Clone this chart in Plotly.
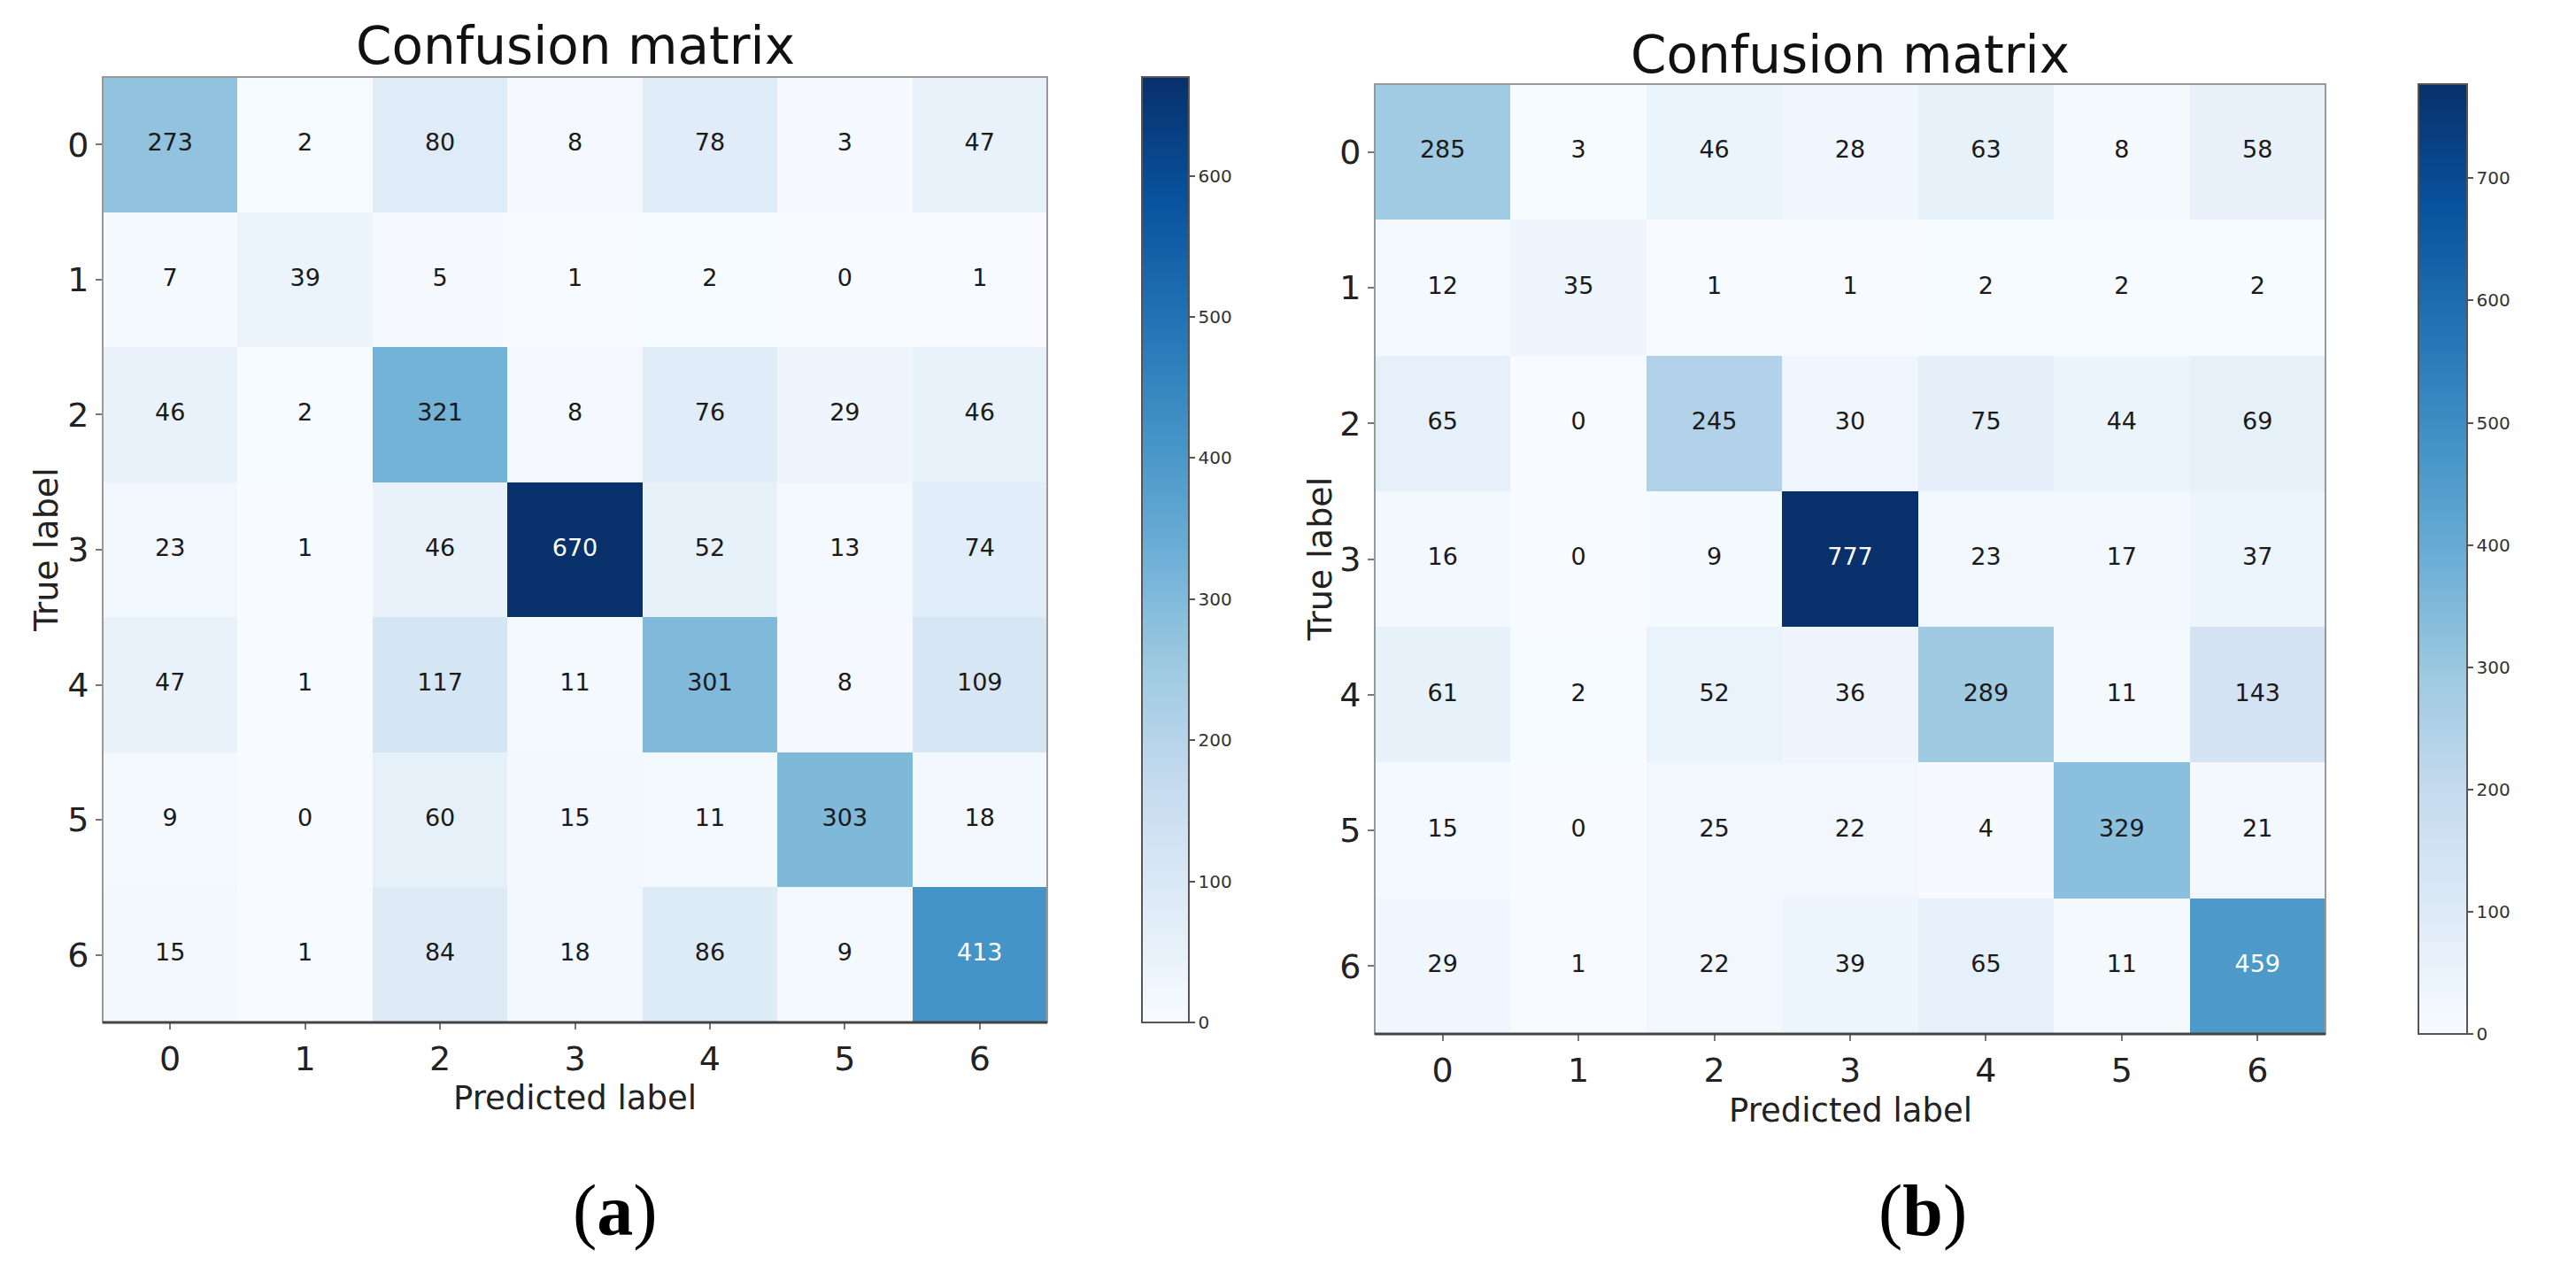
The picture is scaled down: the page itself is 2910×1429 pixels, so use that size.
import plotly.graph_objects as go
import plotly.colors as pc

# ---------------- data ----------------
class_labels = ["0", "1", "2", "3", "4", "5", "6"]

cm_a = [
    [273, 2, 80, 8, 78, 3, 47],
    [7, 39, 5, 1, 2, 0, 1],
    [46, 2, 321, 8, 76, 29, 46],
    [23, 1, 46, 670, 52, 13, 74],
    [47, 1, 117, 11, 301, 8, 109],
    [9, 0, 60, 15, 11, 303, 18],
    [15, 1, 84, 18, 86, 9, 413],
]

cm_b = [
    [285, 3, 46, 28, 63, 8, 58],
    [12, 35, 1, 1, 2, 2, 2],
    [65, 0, 245, 30, 75, 44, 69],
    [16, 0, 9, 777, 23, 17, 37],
    [61, 2, 52, 36, 289, 11, 143],
    [15, 0, 25, 22, 4, 329, 21],
    [29, 1, 22, 39, 65, 11, 459],
]

colorbar_ticks_a = [0, 100, 200, 300, 400, 500, 600]
colorbar_ticks_b = [0, 100, 200, 300, 400, 500, 600, 700]

panel_titles = ["Confusion matrix", "Confusion matrix"]
x_title = "Predicted label"
y_title = "True label"
panel_tags = ["(<b>a</b>)", "(<b>b</b>)"]

# ---------------- layout geometry (pixels) ----------------
W, H = 2910, 1429
FONT = "DejaVu Sans"
BLUES = pc.sequential.Blues


def fx(p):
    return p / W


def fy(p):
    return 1 - p / H


panels = [
    dict(cm=cm_a, ticks=colorbar_ticks_a, box=(116, 87, 1183, 1155),
         cbar=(1290, 53), title_y=52, xlab_y=1240, ylab_x=52, tag_x=695,
         xa="x", ya="y"),
    dict(cm=cm_b, ticks=colorbar_ticks_b, box=(1553, 95, 2627, 1168),
         cbar=(2732, 55), title_y=62, xlab_y=1254, ylab_x=1490, tag_x=2172,
         xa="x2", ya="y2"),
]

fig = go.Figure()
annotations = []
shapes = []
n = len(class_labels)
idx = list(range(n))

for i, p in enumerate(panels):
    cm = p["cm"]
    zmax = max(max(r) for r in cm)
    x0, y0, x1, y1 = p["box"]
    cbx, cbw = p["cbar"]

    fig.add_trace(go.Heatmap(
        z=cm, x=idx, y=idx, colorscale=BLUES, zmin=0, zmax=zmax,
        xaxis=p["xa"], yaxis=p["ya"], hoverinfo="skip",
        colorbar=dict(
            x=fx(cbx), xanchor="left", thickness=cbw, thicknessmode="pixels",
            len=(y1 - y0), lenmode="pixels", y=fy((y0 + y1) / 2), yanchor="middle",
            xpad=0, ypad=0, outlinewidth=2, outlinecolor="#555",
            tickvals=p["ticks"], ticks="outside", ticklen=6, tickcolor="#555",
            tickwidth=1.5,
            tickfont=dict(family=FONT, size=20, color="#333"),
        ),
    ))

    xs, ys, ts, cs = [], [], [], []
    for r in range(n):
        for c in range(n):
            v = cm[r][c]
            xs.append(c)
            ys.append(r)
            ts.append(str(v))
            cs.append("white" if v > zmax / 2 else "#1a1a1a")
    fig.add_trace(go.Scatter(
        x=xs, y=ys, text=ts, mode="text", textposition="middle center",
        textfont=dict(family=FONT, size=27, color=cs),
        xaxis=p["xa"], yaxis=p["ya"], hoverinfo="skip", showlegend=False,
    ))

    axis_common = dict(
        tickvals=idx, ticktext=class_labels, showgrid=False, zeroline=False,
        ticks="outside", ticklen=7, tickwidth=1.5, tickcolor="#777",
        tickfont=dict(family=FONT, size=38, color="#222"), showline=False,
    )
    xkey = "xaxis" if p["xa"] == "x" else "xaxis2"
    ykey = "yaxis" if p["ya"] == "y" else "yaxis2"
    fig.update_layout(**{
        xkey: dict(axis_common, domain=[fx(x0), fx(x1)], range=[-0.5, n - 0.5],
                   anchor=p["ya"]),
        ykey: dict(axis_common, domain=[fy(y1), fy(y0)], range=[n - 0.5, -0.5],
                   anchor=p["xa"]),
    })

    # frame (spines)
    xd = p["xa"] + " domain"
    yd = p["ya"] + " domain"
    shapes.append(dict(type="rect", xref=xd, yref=yd, x0=0, x1=1, y0=0, y1=1,
                       line=dict(color="#999", width=2)))
    shapes.append(dict(type="line", xref=xd, yref=yd, x0=0, x1=1, y0=0, y1=0,
                       line=dict(color="#444", width=3)))

    cx = (x0 + x1) / 2
    annotations += [
        dict(text=panel_titles[i], x=fx(cx), y=fy(p["title_y"]), xref="paper",
             yref="paper", showarrow=False, xanchor="center", yanchor="middle",
             font=dict(family=FONT, size=58, color="#111")),
        dict(text=x_title, x=fx(cx), y=fy(p["xlab_y"]), xref="paper",
             yref="paper", showarrow=False, xanchor="center", yanchor="middle",
             font=dict(family=FONT, size=37, color="#222")),
        dict(text=y_title, x=fx(p["ylab_x"]), y=fy((y0 + y1) / 2), xref="paper",
             yref="paper", showarrow=False, xanchor="center", yanchor="middle",
             textangle=-90, font=dict(family=FONT, size=38, color="#222")),
        dict(text=panel_tags[i], x=fx(p["tag_x"]), y=fy(1367), xref="paper",
             yref="paper", showarrow=False, xanchor="center", yanchor="middle",
             font=dict(family="Liberation Serif", size=82, color="#000")),
    ]

fig.update_layout(
    width=W, height=H, autosize=False,
    margin=dict(l=0, r=0, t=0, b=0, pad=0),
    paper_bgcolor="white", plot_bgcolor="white",
    showlegend=False, annotations=annotations, shapes=shapes,
)

fig.write_html("out.html", config={"displayModeBar": False},
               post_script="document.body.style.margin='0';")
